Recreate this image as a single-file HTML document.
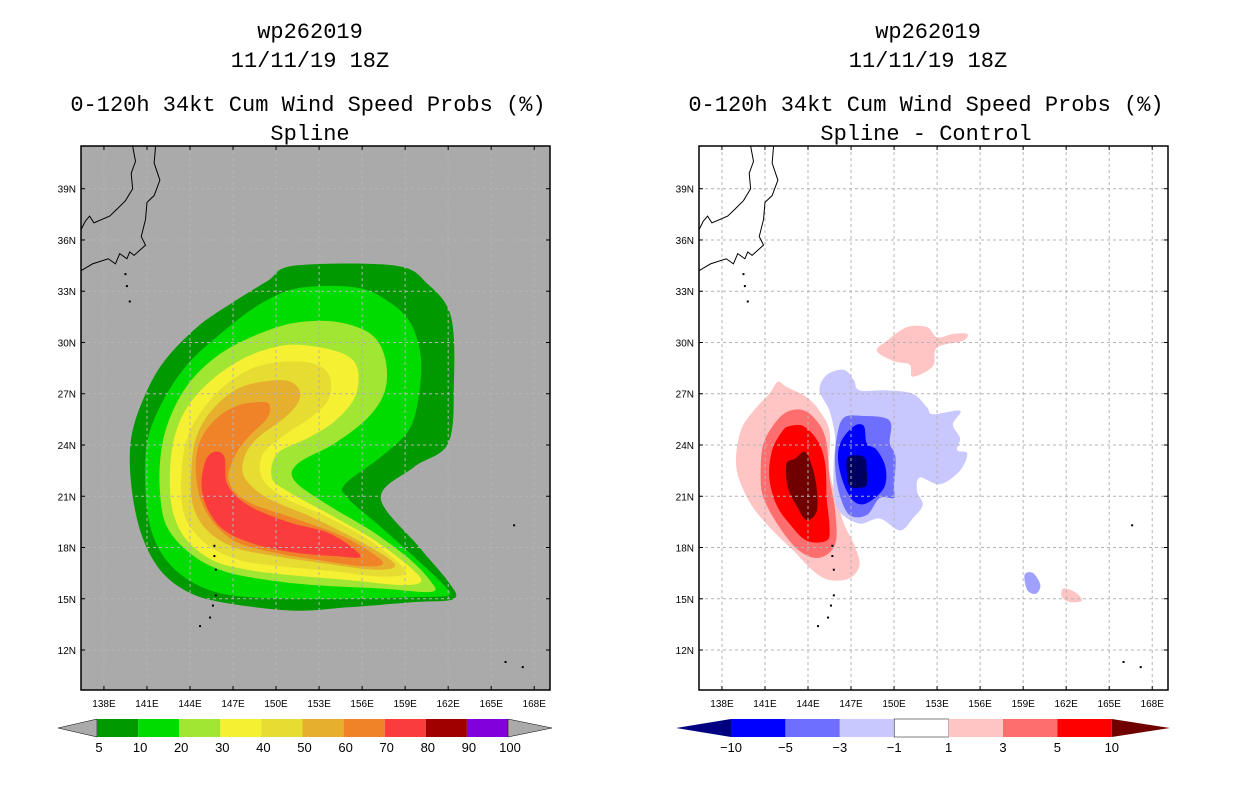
<!DOCTYPE html>
<html><head><meta charset="utf-8"><style>
body{margin:0;background:#fff;}
svg{display:block;}
text{font-family:"Liberation Sans",sans-serif;}
.ttl{font-family:"Liberation Mono",monospace;font-size:22px;fill:#000;}
.tk{font-size:10px;fill:#000;}
.cb{font-size:13px;fill:#000;}
</style></head><body>
<svg id="chart" width="1236" height="800" xmlns="http://www.w3.org/2000/svg">
<g>
<text class="ttl" x="310" y="38" text-anchor="middle">wp262019</text>
<text class="ttl" x="310" y="67" text-anchor="middle">11/11/19 18Z</text>
<text class="ttl" x="308" y="111" text-anchor="middle">0-120h 34kt Cum Wind Speed Probs (%)</text>
<text class="ttl" x="310" y="140" text-anchor="middle">Spline</text>
</g>
<g>
<text class="ttl" x="928" y="38" text-anchor="middle">wp262019</text>
<text class="ttl" x="928" y="67" text-anchor="middle">11/11/19 18Z</text>
<text class="ttl" x="926" y="111" text-anchor="middle">0-120h 34kt Cum Wind Speed Probs (%)</text>
<text class="ttl" x="926" y="140" text-anchor="middle">Spline - Control</text>
</g>
<g id="left"></g>
<g id="right"></g>
<g id="cbars"></g>
</svg>
<script>
const lonTicks=[138,141,144,147,150,153,156,159,162,165,168];
const latTicks=[12,15,18,21,24,27,30,33,36,39];
const probLevels=[5,10,20,30,40,50,60,70];
const probColors=["#009a00","#00dc00","#a0e632","#f5f032","#e6dc32","#e6af2d","#f08228","#fa3c3c"];
const prob5=[[151.3,34.5],[158.3,34.5],[160.6,33.4],[162.2,31.5],[162.4,27.6],[162.0,24.1],[159.6,22.7],[157.3,20.9],[159.9,18.1],[162.0,16.0],[162.4,15.0],[159.6,14.8],[155.0,14.5],[151.3,14.3],[146.9,14.7],[144.1,15.3],[142.0,16.6],[140.6,18.8],[139.9,21.7],[139.9,24.4],[140.8,26.8],[142.2,28.9],[144.5,30.9],[146.9,32.3],[149.4,33.6]];
const prob10=[[151.7,33.2],[155.7,33.2],[158.0,32.3],[159.4,31.1],[160.1,29.1],[159.9,26.6],[159.2,24.8],[157.3,23.3],[154.8,21.7],[155.0,20.9],[157.3,19.2],[159.7,17.4],[161.7,15.8],[162.0,15.2],[159.7,15.1],[155.0,15.0],[151.3,15.0],[146.9,15.2],[144.3,15.9],[142.4,17.2],[141.3,19.0],[140.9,21.3],[141.0,24.1],[142.0,26.4],[143.8,28.7],[146.4,30.7],[149.0,32.3]];
const prob20=[[154.3,31.2],[156.6,30.5],[157.6,29.1],[157.6,27.2],[156.4,25.6],[154.1,24.1],[151.5,22.9],[151.3,21.9],[153.6,20.5],[156.6,19.0],[159.2,17.4],[160.8,16.0],[160.8,15.4],[157.3,15.6],[152.7,15.8],[149.4,16.1],[146.4,16.6],[144.1,17.6],[142.4,19.2],[141.9,21.3],[142.0,23.7],[142.7,25.8],[144.1,27.8],[146.4,29.5],[149.4,30.7],[151.7,31.2]];
const prob30=[[152.4,29.8],[154.8,29.3],[155.7,28.4],[155.5,26.8],[154.1,25.4],[152.2,24.4],[150.1,23.5],[149.7,22.1],[150.8,21.3],[153.8,19.9],[156.9,18.4],[159.4,16.8],[160.1,16.0],[158.7,15.8],[155.0,16.1],[150.8,16.4],[148.0,16.7],[145.7,17.2],[143.8,18.4],[142.8,20.1],[142.6,22.3],[142.9,24.4],[143.8,26.2],[145.5,27.8],[147.8,29.1],[150.3,29.8]];
const prob40=[[151.3,28.9],[153.1,28.6],[153.8,27.8],[153.6,26.6],[152.4,25.6],[150.6,24.6],[149.1,23.5],[149.0,22.1],[150.6,20.9],[153.8,19.7],[156.9,18.2],[159.0,16.6],[157.3,16.3],[154.1,16.6],[150.3,16.9],[147.3,17.3],[145.0,18.3],[143.6,19.9],[143.4,22.1],[143.8,24.4],[145.0,26.2],[146.6,27.6],[148.7,28.6]];
const prob50=[[150.3,27.8],[151.5,27.4],[151.6,26.6],[150.6,25.6],[148.7,24.4],[147.8,23.3],[147.8,22.1],[149.4,20.9],[152.7,19.7],[156.2,18.2],[158.3,17.0],[156.9,16.7],[153.1,17.1],[149.9,17.5],[147.1,18.0],[145.2,19.0],[144.2,20.5],[144.1,22.7],[144.5,24.6],[145.7,26.2],[147.6,27.4]];
const prob60=[[148.7,26.5],[149.5,26.4],[149.4,25.6],[148.0,24.4],[147.1,23.3],[146.7,21.9],[148.0,20.7],[151.3,19.7],[154.8,18.6],[157.4,17.2],[156.2,16.9],[152.7,17.3],[149.9,17.7],[147.3,18.3],[145.7,19.4],[144.7,20.9],[144.4,22.9],[144.8,24.4],[145.9,25.6],[147.3,26.3]];
const prob70=[[145.7,23.6],[146.4,23.3],[146.6,21.7],[148.0,20.5],[150.8,19.5],[153.8,18.8],[155.9,17.5],[154.1,17.5],[151.3,17.7],[148.5,18.2],[146.4,19.0],[145.2,20.3],[144.8,21.7],[145.1,23.1]];
const probPolys=[prob5,prob10,prob20,prob30,prob40,prob50,prob60,prob70];

const diffPos1=[[141.9,27.7],[142.5,27.4],[143.9,26.8],[144.8,26.0],[145.5,24.8],[145.5,22.5],[146.0,20.9],[146.5,19.4],[147.2,18.2],[147.6,17.0],[146.9,16.2],[145.5,16.1],[144.4,16.6],[143.0,17.8],[141.3,19.2],[139.9,20.7],[139.0,22.7],[139.3,24.8],[140.2,26.0],[141.3,27.0]];
const diffPos1b=[[149.5,30.1],[150.9,30.9],[152.3,30.9],[153.0,30.3],[154.1,30.5],[155.1,30.5],[154.8,30.1],[153.0,29.7],[152.7,28.6],[151.3,28.0],[151.1,28.7],[150.0,28.9],[148.8,29.5]];
const diffPos1c=[[161.8,15.6],[162.6,15.4],[163.1,14.9],[162.3,14.8],[161.7,15.1]];
const diffPos3=[[142.7,26.0],[143.8,26.0],[144.8,25.2],[145.3,24.1],[145.5,22.1],[145.9,20.1],[145.9,18.2],[144.8,17.4],[143.4,17.8],[142.0,19.2],[140.9,20.9],[140.7,22.3],[140.9,24.1],[141.8,25.4]];
const diffPos5=[[142.7,25.1],[143.7,25.1],[144.7,24.2],[145.2,22.9],[145.3,20.9],[145.5,19.2],[145.3,18.4],[143.9,18.4],[142.7,19.4],[141.8,20.5],[141.3,22.1],[141.5,23.7],[142.2,24.8]];
const diffPos10=[[143.8,23.6],[144.3,22.7],[144.6,21.5],[144.6,20.1],[143.9,19.6],[143.3,20.3],[142.6,21.5],[142.5,22.9],[143.1,23.2]];
const diffNeg1=[[145.3,28.1],[146.5,28.4],[147.2,27.8],[147.6,27.2],[149.5,27.2],[151.3,27.0],[152.3,26.2],[152.7,25.8],[154.6,26.0],[154.1,25.2],[154.6,24.4],[154.4,23.7],[155.1,23.5],[154.6,22.5],[153.2,21.7],[151.8,22.1],[151.6,21.3],[152.0,20.5],[151.3,19.7],[150.4,19.0],[149.0,19.7],[147.6,19.4],[146.2,20.1],[145.8,21.3],[145.8,23.1],[145.9,24.4],[145.5,26.0],[144.8,27.2]];
const diffNeg1b=[[159.1,16.4],[159.7,16.5],[160.2,15.8],[159.9,15.3],[159.3,15.5]];
const diffNeg3=[[146.5,25.6],[147.9,25.7],[149.3,25.6],[149.8,25.2],[149.7,24.1],[150.1,23.3],[150.0,21.5],[150.0,20.9],[149.0,20.9],[148.1,19.9],[146.9,19.9],[146.2,21.1],[145.9,22.7],[146.0,24.4]];
const diffNeg5=[[147.2,25.1],[147.9,25.1],[148.1,24.1],[148.8,23.7],[149.4,22.7],[149.3,21.5],[148.1,20.6],[147.2,20.7],[146.5,21.7],[146.1,23.1],[146.3,24.2]];
const diffNeg10=[[146.8,23.3],[147.9,23.3],[148.1,22.5],[148.1,21.7],[147.7,21.5],[146.9,21.6],[146.7,22.5]];
const diffPolys=[diffPos1,diffPos1b,diffPos1c,diffNeg1,diffNeg1b,diffPos3,diffPos5,diffPos10,diffNeg3,diffNeg5,diffNeg10];
const diffColors=["#ffc4c4","#ffc4c4","#ffc4c4","#c8c8ff","#a0a0ff","#ff6e6e","#ff0000","#700000","#6e6eff","#0000ff","#000060"];
const diffBins=["-10","-5","-3","-1","1","3","5","10"];
const diffBarColors=["#0000ff","#6e6eff","#c8c8ff","#ffffff","#ffc4c4","#ff6e6e","#ff0000"];
const coast=[[141.6,41.5],[141.5,40.5],[141.9,39.5],[141.5,38.6],[141.0,38.2],[140.9,37.2],[140.6,36.2],[140.9,35.7],[140.1,35.1],[139.8,35.3],[139.6,34.9],[139.1,35.2],[138.8,34.6],[138.3,34.9],[137.2,34.6],[136.8,34.4],[136.4,34.2]];
const coastW=[[140.0,41.5],[140.2,40.6],[139.9,39.9],[140.0,39.0],[139.5,38.3],[138.9,37.8],[138.4,37.4],[137.3,37.0],[137.0,37.4],[136.7,37.1],[136.4,36.6]];
const islands=[[139.5,34.0],[139.6,33.3],[139.8,32.4],[145.7,18.1],[145.7,17.5],[145.8,16.7],[145.8,15.2],[145.6,14.6],[145.4,13.9],[144.7,13.4],[166.6,19.3],[166.0,11.3],[167.2,11.0]];

const NS="http://www.w3.org/2000/svg";
const PX0=81,PY0=146,PW=469,PH=544;
const LON0=136.4,LON1=169.1,LAT0=9.66,LAT1=41.5;
function xs(lon,off){return off+PX0+(lon-LON0)/(LON1-LON0)*PW;}
function ys(lat){return PY0+(LAT1-lat)/(LAT1-LAT0)*PH;}
function mk(tag,attrs,parent){const e=document.createElementNS(NS,tag);for(const k in attrs)e.setAttribute(k,attrs[k]);parent.appendChild(e);return e;}
function smooth(poly,off){
  const p=poly.map(d=>[xs(d[0],off),ys(d[1])]);const n=p.length;
  let s=`M${p[0][0]},${p[0][1]}`;
  for(let i=0;i<n;i++){const p0=p[(i-1+n)%n],p1=p[i],p2=p[(i+1)%n],p3=p[(i+2)%n];
    const c1=[p1[0]+(p2[0]-p0[0])/6,p1[1]+(p2[1]-p0[1])/6],c2=[p2[0]-(p3[0]-p1[0])/6,p2[1]-(p3[1]-p1[1])/6];
    s+=`C${c1[0]},${c1[1]} ${c2[0]},${c2[1]} ${p2[0]},${p2[1]}`;}
  return s+"Z";}
function line(poly,off){return poly.map((d,i)=>(i?"L":"M")+xs(d[0],off)+","+ys(d[1])).join("");}

function panel(g,off,bg,polys,colors,name){
  const cid="clip"+off;
  const cp=mk("clipPath",{id:cid},g);mk("rect",{x:off+PX0,y:PY0,width:PW,height:PH},cp);
  const bgR=mk("rect",{x:off+PX0,y:PY0,width:PW,height:PH,fill:bg},g);
  
  
  const cg=mk("g",{"clip-path":`url(#${cid})`},g);
  polys.forEach((p,i)=>{const e=mk("path",{d:smooth(p,off),fill:colors[i]},cg);
    
    });
  lonTicks.forEach(l=>{const x=xs(l,off);
    const gl=mk("line",{x1:x,x2:x,y1:PY0,y2:PY0+PH,stroke:"#b4b4b4","stroke-dasharray":"3,3","stroke-width":1},cg);
    
    
    mk("line",{x1:x,x2:x,y1:PY0+PH,y2:PY0+PH-4,stroke:"#000"},g);
    mk("line",{x1:x,x2:x,y1:PY0,y2:PY0+4,stroke:"#000"},g);
    const t=mk("text",{x:x,y:PY0+PH+17,class:"tk","text-anchor":"middle"},g);t.textContent=l+"E";
    
    });
  latTicks.forEach(l=>{const y=ys(l);
    const gl=mk("line",{x1:off+PX0,x2:off+PX0+PW,y1:y,y2:y,stroke:"#b4b4b4","stroke-dasharray":"3,3","stroke-width":1},cg);
    
    
    mk("line",{x1:off+PX0,x2:off+PX0+4,y1:y,y2:y,stroke:"#000"},g);
    mk("line",{x1:off+PX0+PW,x2:off+PX0+PW-4,y1:y,y2:y,stroke:"#000"},g);
    const t=mk("text",{x:off+PX0-5,y:y+4,class:"tk","text-anchor":"end"},g);t.textContent=l+"N";
    
    });
  const c1=mk("path",{d:line(coast,off),fill:"none",stroke:"#000","stroke-width":1},cg);
  
  
  const c2=mk("path",{d:line(coastW,off),fill:"none",stroke:"#000","stroke-width":1},cg);
  
  
  islands.forEach(d=>{const r=mk("rect",{x:xs(d[0],off)-1,y:ys(d[1])-1,width:2,height:2,fill:"#000"},cg);
    
    });
  const fr=mk("rect",{x:off+PX0,y:PY0,width:PW,height:PH,fill:"none",stroke:"#000","stroke-width":1.5},g);
  
  
}
panel(document.getElementById("left"),0,"#aaaaaa",probPolys,probColors,"prob");
panel(document.getElementById("right"),618,"#ffffff",diffPolys,diffColors,"diff");

// colorbars
const cb=document.getElementById("cbars");
const Y0=719,Y1=737,YM=728;
// left
const lbW=41.1,lbX=97;
const lt=mk("polygon",{points:`58,${YM} ${lbX},${Y0} ${lbX},${Y1}`,fill:"#aaaaaa",stroke:"#000","stroke-width":0.5},cb);


const probBarColors=probColors.concat(["#a00000","#8200dc"]);
const probBarLabels=[5,10,20,30,40,50,60,70,80,90,100];
probBarColors.forEach((c,i)=>{const r=mk("rect",{x:lbX+i*lbW,y:Y0,width:lbW,height:Y1-Y0,fill:c},cb);
  
  });
const rtA=mk("polygon",{points:`${lbX+10*lbW},${Y0} ${lbX+10*lbW},${Y1} 552,${YM}`,fill:"#aaaaaa",stroke:"#000","stroke-width":0.5},cb);


probBarLabels.forEach((v,i)=>{const t=mk("text",{x:lbX+i*lbW+2,y:752,class:"cb","text-anchor":"middle"},cb);t.textContent=v;
  
  });
// right
const rbX=731,rbW=54.4;
const la=mk("polygon",{points:`676,${YM} ${rbX},${Y0} ${rbX},${Y1}`,fill:"#000080"},cb);


diffBarColors.forEach((c,i)=>{const r=mk("rect",{x:rbX+i*rbW,y:Y0,width:rbW,height:Y1-Y0,fill:c,stroke:c==="#ffffff"?"#000":"none","stroke-width":0.5},cb);
  
  });
const ra=mk("polygon",{points:`${rbX+7*rbW},${Y0} ${rbX+7*rbW},${Y1} 1170,${YM}`,fill:"#700000"},cb);


diffBins.forEach((v,i)=>{const t=mk("text",{x:rbX+i*rbW,y:752,class:"cb","text-anchor":"middle"},cb);t.textContent=v.replace("-","\u2212");
  
  });
</script>
</body></html>
